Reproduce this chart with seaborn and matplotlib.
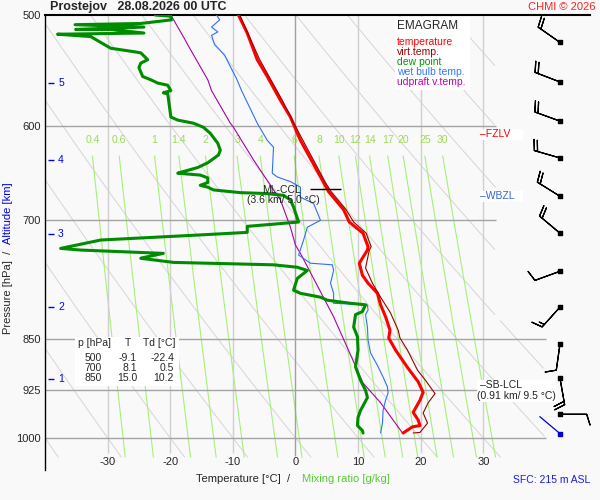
import numpy as np
import seaborn as sns
import matplotlib.pyplot as plt
from matplotlib.patches import Rectangle
from matplotlib.ticker import NullLocator

# ---- profiles (pressure hPa, temperature degC) ----
temp_p = [500, 515, 538, 553, 575, 591, 607, 614, 658, 668, 688, 702, 715, 731, 735, 751, 766, 776,
          789, 804, 820, 838, 849, 866, 891, 912, 928, 940, 959, 971, 980, 982, 992]
temp_t = [-9.1, -7.7, -6.1, -4.5, -2.4, -0.8, 0.3, 0.8, 4.5, 5.3, 7.7, 8.6, 10.8, 11.6, 11.5, 10.2, 10.7, 11.6,
          13.1, 13.6, 14.4, 15.1, 14.9, 16.0, 17.9, 19.6, 20.4, 19.9, 18.8, 19.6, 19.9, 18.7, 17.2]

virt_p = [500, 538, 575, 607, 658, 668, 688, 702, 715, 731, 735, 757, 776, 794, 815, 838, 849, 866,
          895, 909, 930, 944, 960, 976, 991, 992]
virt_t = [-8.9, -5.7, -2.1, 0.6, 4.8, 5.7, 8.1, 9.3, 11.3, 12.1, 11.8, 11.2, 12.3, 13.6, 15.2, 16.4, 16.7, 17.9,
          19.5, 20.7, 22.3, 21.2, 20.4, 21.1, 19.9, 18.8]

dew_p = [500, 501, 504, 507, 508, 510, 512, 512, 515, 516, 518, 523, 528, 531, 532, 538, 541, 545, 553, 556,
         559, 561, 566, 568, 569, 573, 591, 594, 597, 601, 607, 617, 624, 629, 637, 642, 647, 648, 650, 653,
         658, 661, 663, 666, 669, 670, 672, 677, 685, 702, 707, 714, 717, 723, 733, 735, 739, 744, 745, 750,
         753, 756, 760, 770, 785, 789, 794, 798, 802, 804, 813, 817, 834, 847, 866, 890, 910, 925, 936, 956,
         967, 980, 988, 992]
dew_t = [-22.4, -19.9, -19.8, -24.7, -35.2, -24.2, -35.1, -29.5, -24.2, -38.0, -32.7, -31.1, -29.5, -25.8,
         -24.7, -23.6, -24.7, -25.0, -24.4, -23.1, -22.0, -20.4, -19.9, -21.1, -20.4, -20.3, -19.9, -18.8,
         -16.3, -14.7, -13.6, -12.4, -12.0, -12.3, -14.0, -15.6, -18.3, -18.8, -15.2, -14.0, -14.0, -15.2,
         -14.0, -13.1, -8.8, -4.5, -1.9, -0.8, -0.3, 0.5, -7.7, -7.7, -15.2, -31.1, -37.5, -34.3, -21.1,
         -24.2, -24.7, -19.5, -3.5, 0.3, 1.9, 0.3, -0.3, 0.8, 4.0, 5.1, 8.8, 11.2, 10.7, 9.6, 9.3, 9.9,
         10.0, 9.6, 10.4, 11.2, 11.5, 10.4, 10.0, 9.9, 10.7, 10.8]

wet_p = [500, 504, 510, 514, 517, 525, 534, 543, 555, 566, 597, 614, 621, 648, 652, 657, 663, 674, 681, 700,
         708, 723, 741, 751, 753, 760, 776, 789, 802, 804, 811, 817, 834, 852, 870, 888, 905, 920, 929, 940,
         956, 976, 992]
wet_t = [-12.6, -12.1, -13.4, -12.4, -13.4, -12.9, -11.3, -10.5, -9.4, -8.6, -6.1, -4.5, -3.5, -3.7, -2.9,
         -0.8, 0.8, 0.8, 2.9, 4.0, 1.9, 1.3, 0.5, 2.4, 5.9, 6.1, 5.6, 6.1, 6.1, 11.5, 11.6, 11.2, 11.5, 11.6,
         12.0, 13.1, 14.0, 14.7, 14.8, 14.4, 14.0, 13.9, 13.6]

parcel_p = [500, 520, 525, 556, 566, 597, 601, 634, 666, 677, 708, 729, 739, 820, 914, 944, 992]
parcel_t = [-19.9, -17.7, -17.2, -14.0, -13.4, -10.4, -9.9, -6.7, -3.5, -2.4, -0.8, 0.0, 0.8, 6.1, 10.8, 13.6, 17.1]

# wind (direction from, speed kt)
wind_p = [523, 558, 595, 632, 673, 715, 761, 807, 857, 907, 962]
wind_dir = [305, 291, 290, 286, 302, 310, 250, 222, 188, 170, 90]
wind_spd = [20, 20, 20, 20, 20, 20, 10, 15, 10, 20, 10]
sfc_p, sfc_dir = 993, 310

# table
tab_p = [500, 700, 850]
tab_t = [-9.1, 8.1, 15.0]
tab_td = [-22.4, 0.5, 10.2]

p_levels = [500, 600, 700, 850, 925, 1000]
t_ticks = [-30, -20, -10, 0, 10, 20, 30]
alt_km = [1, 2, 3, 4, 5]
alt_p = [908, 807, 716, 634, 559]
mix_w = [0.4, 0.6, 1, 1.4, 2, 3, 4, 6, 8, 10, 12, 14, 17, 20, 25, 30]
fzlv_p, wbzl_p = 624, 673
ccl_p, ccl_t = 665, 5.0

BG = '#f9f9f9'
sns.set_style('white')
plt.rcParams['font.family'] = ['Liberation Sans', 'DejaVu Sans']

fig = plt.figure(figsize=(6, 5), dpi=100, facecolor=BG)
rect = [45 / 600, 1 - 470 / 500, 545 / 600, 455 / 500]
ax = fig.add_axes(rect, facecolor=BG)
ax.set_yscale('log')
ax.set_ylim(1054, 500)
ax.set_xlim(-40, 47.05)


def fx(x):
    return x / 600


def fy(y):
    return 1 - y / 500


# dry adiabats (theta every 10 degC)
pl = np.geomspace(500, 1032, 150)
lim = np.where(pl < 825, 32, 40)
for th in range(-40, 100, 10):
    t = (th + 273.15) * (pl / 1000) ** 0.286 - 273.15
    ax.plot(np.where(t <= lim, t, np.nan), pl, color='#d5d5d5', lw=0.7, zorder=1)

# mixing ratio lines
pm = np.geomspace(630, 1032, 60)
for w in mix_w:
    a = np.log(w * pm / (622 + w) / 6.112)
    td = 243.5 * a / (17.67 - a)
    ax.plot(td, pm, color='#a6f07a', lw=0.8, zorder=1)
    ax.text(td[0], 614, f'{w:g}', color='#99dd55', ha='center', va='center', fontsize=7.5)

# grid
ax.vlines([t for t in t_ticks if t != 0], 500, 1025, color='#d0d0d0', lw=1, zorder=1)
ax.vlines(0, 500, 1030, color='#a0a0a0', lw=1, zorder=1)
ax.hlines([600, 700], -40, 32, color='#a4a4a4', lw=1, zorder=1)
ax.hlines([850, 925, 1000], -40, 40, color='#a4a4a4', lw=1, zorder=1)

# profiles
sns.lineplot(x=parcel_t, y=parcel_p, sort=False, estimator=None, ax=ax, color='#aa00aa', lw=0.8, zorder=3)
sns.lineplot(x=wet_t, y=wet_p, sort=False, estimator=None, ax=ax, color='#2f6fff', lw=0.8, zorder=3)
sns.lineplot(x=dew_t, y=dew_p, sort=False, estimator=None, ax=ax, color='#008c00', lw=2.2, zorder=3)
sns.lineplot(x=temp_t, y=temp_p, sort=False, estimator=None, ax=ax, color='#ff0000', lw=2.2, zorder=3)
sns.lineplot(x=virt_t, y=virt_p, sort=False, estimator=None, ax=ax, color='#990000', lw=0.8, zorder=4)

# wind barbs on an overlay with upward y (y = -ln p), so directions are not mirrored
axw = fig.add_axes(rect)
axw.set_xlim(-40, 47.05)
axw.set_ylim(-np.log(1054), -np.log(500))
axw.axis('off')
bx = 42.26
wy = -np.log(wind_p)
rad = np.deg2rad(wind_dir)
u = -np.array(wind_spd) * np.sin(rad)
v = -np.array(wind_spd) * np.cos(rad)
axw.barbs(np.full(len(wind_p), bx), wy, u, v, length=6.2, lw=0.9, color='black', zorder=5, clip_on=False)
axw.scatter(np.full(len(wind_p), bx), wy, marker='s', s=7, color='black', zorder=6)
sr = np.deg2rad(sfc_dir)
axw.annotate('', xy=(bx, -np.log(sfc_p)), xytext=(19 * np.sin(sr), 19 * np.cos(sr)), textcoords='offset points',
             arrowprops=dict(arrowstyle='-', color='#0000dd', lw=0.9, shrinkA=0, shrinkB=0), zorder=5)
axw.scatter([bx], [-np.log(sfc_p)], marker='s', s=7, color='#0000dd', zorder=6)

# axes styling
for s in ['bottom', 'right']:
    ax.spines[s].set_visible(False)
ax.spines['left'].set_color('black')
ax.spines['left'].set_linewidth(1)
ax.spines['top'].set_color('black')
ax.spines['top'].set_linewidth(1.5)
ax.set_yticks(p_levels)
ax.set_yticklabels([str(p) for p in p_levels], fontsize=8)
ax.yaxis.set_minor_locator(NullLocator())
ax.tick_params(axis='y', length=0, pad=3)
ax.set_xticks([])
for t in t_ticks:
    ax.text(t, 1040, str(t), ha='center', va='center', fontsize=8)

# altitude marks
ax.hlines(alt_p, -39.5, -38.6, color='#0000ee', lw=1, zorder=4)
for k, p in zip(alt_km, alt_p):
    ax.text(-37.9, p, str(k), color='#0000ee', va='center', ha='left', fontsize=7.5)

# CCL / levels
ax.hlines(ccl_p, ccl_t - 2.7, ccl_t + 2.3, color='black', lw=1, zorder=5)
fig.text(fx(262), fy(190), 'ML-CCL', fontsize=7.5, va='center', color='#222222')
fig.text(fx(247), fy(200), '(3.6 km/ 5.0 °C)', fontsize=7.5, va='center', color='#222222')

for (x0, y0, x1, y1) in [(395, 17, 470, 90), (75, 337, 179, 386), (480, 129, 523, 140),
                         (480, 191, 523, 202), (477, 380, 556, 402)]:
    fig.add_artist(Rectangle((fx(x0), fy(y1)), (x1 - x0) / 600, (y1 - y0) / 500,
                             transform=fig.transFigure, facecolor='white', edgecolor='none', zorder=1))

fig.text(fx(480), fy(134), '–FZLV', color='#ff0000', fontsize=7.5, va='center', zorder=3)
fig.text(fx(480), fy(196), '–WBZL', color='#3366dd', fontsize=7.5, va='center', zorder=3)
fig.text(fx(480), fy(385), '–SB-LCL', color='#222222', fontsize=7.5, va='center', zorder=3)
fig.text(fx(477), fy(396), '(0.91 km/ 9.5 °C)', color='#222222', fontsize=7.5, va='center', zorder=3)

# legend block
fig.text(fx(397), fy(26), 'EMAGRAM', fontsize=8.5, va='center', zorder=3)
leg = [('temperature', '#ff0000'), ('virt.temp.', '#990000'), ('dew point', '#009900'),
       ('wet bulb temp.', '#3377ff'), ('udpraft v.temp.', '#bb00bb')]
for i, (lab, c) in enumerate(leg):
    fig.text(fx(397), fy(42 + 10 * i), lab, color=c, fontsize=7.5, va='center', zorder=3)

# table block
fig.text(fx(78), fy(343), 'p [hPa]', fontsize=7.5, va='center', zorder=3)
fig.text(fx(128), fy(343), 'T', fontsize=7.5, va='center', ha='center', zorder=3)
fig.text(fx(143), fy(343), 'Td [°C]', fontsize=7.5, va='center', zorder=3)
for i, (p, t, td) in enumerate(zip(tab_p, tab_t, tab_td)):
    yy = fy(358 + 10 * i)
    fig.text(fx(102), yy, str(p), fontsize=7.5, va='center', ha='right', zorder=3)
    fig.text(fx(137), yy, f'{t:.1f}', fontsize=7.5, va='center', ha='right', zorder=3)
    fig.text(fx(174), yy, f'{td:.1f}', fontsize=7.5, va='center', ha='right', zorder=3)

# titles and axis labels
fig.text(fx(50), fy(7), 'Prostejov   28.08.2026 00 UTC', fontsize=9, weight='bold', va='center')
fig.text(fx(596), fy(7), 'CHMI © 2026', color='#ff2222', fontsize=8, va='center', ha='right')
fig.text(fx(8), fy(292), 'Pressure [hPa]  /', rotation=90, fontsize=8, va='center', ha='center')
fig.text(fx(8), fy(213), 'Altitude [km]', rotation=90, fontsize=8, va='center', ha='center', color='#0000ee')
fig.text(fx(290), fy(479), 'Temperature [°C]  /', fontsize=8, va='center', ha='right')
fig.text(fx(302), fy(479), 'Mixing ratio [g/kg]', fontsize=8, va='center', ha='left', color='#55cc33')
fig.text(fx(590), fy(480), 'SFC: 215 m ASL', fontsize=7.5, va='center', ha='right', color='#1a1aee')

fig.savefig('out.png', dpi=100, facecolor=fig.get_facecolor())
